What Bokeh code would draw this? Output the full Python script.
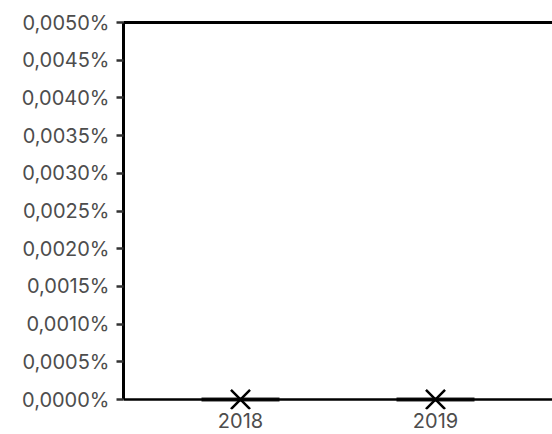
from bokeh.plotting import figure
from bokeh.models import (ColumnDataSource, FixedTicker, CustomJSTickFormatter,
                          LinearAxis, Range1d, Span)
from bokeh.embed import file_html
from bokeh.resources import INLINE

# Data (values in percent)
years = ["2018", "2019"]
q1 = [0.0, 0.0]
median = [0.0, 0.0]
q3 = [0.0, 0.0]
mean = [0.0, 0.0]
y_ticks = [0.0, 0.0005, 0.001, 0.0015, 0.002, 0.0025, 0.003, 0.0035, 0.004, 0.0045, 0.005]
y_max = 0.005

xs = list(range(len(years)))
box_half = 0.2
src = ColumnDataSource(dict(
    x=xs,
    x0=[x - box_half for x in xs],
    x1=[x + box_half for x in xs],
    q1=q1, q3=q3, med=median, mean=mean,
))

FONT = "Inter"
LABEL_COLOR = "#4d4d4d"
# small extension below zero so the markers are not clipped (10px of 377px)
y_pad = y_max * 10 / 377

p = figure(width=552, height=434, output_backend="svg", toolbar_location=None,
           x_range=Range1d(-0.6, len(years) - 0.4), y_range=Range1d(-y_pad, y_max),
           min_border_left=123, min_border_top=22, min_border_right=0,
           min_border_bottom=25)

p.grid.visible = False
p.background_fill_color = "white"
p.border_fill_color = "white"
p.outline_line_color = None

# bottom line at zero
p.add_layout(Span(location=0, dimension="width", line_color="black", line_width=2.5))

# boxes (collapsed)
p.segment(x0="x0", x1="x1", y0="med", y1="med", source=src,
          line_color="#222222", line_width=4)
p.scatter(x="x", y="mean", source=src, marker="x", size=27,
          line_color="black", line_width=2.5)

# x axis
xa = p.xaxis[0]
xa.ticker = FixedTicker(ticks=xs)
xa.major_label_overrides = {i: y for i, y in enumerate(years)}
xa.major_tick_line_color = None
xa.minor_tick_line_color = None
xa.major_tick_in = 0
xa.major_tick_out = 0
xa.axis_line_color = None
xa.major_label_text_font = FONT
xa.major_label_text_font_size = "20px"
xa.major_label_text_color = LABEL_COLOR
xa.major_label_standoff = 3

# y axis
ya = p.yaxis[0]
ya.bounds = (0, y_max)
ya.ticker = FixedTicker(ticks=y_ticks)
ya.formatter = CustomJSTickFormatter(code="return tick.toFixed(4).replace('.', ',') + '%';")
ya.minor_tick_line_color = None
ya.major_tick_in = 0
ya.major_tick_out = 7
ya.major_tick_line_width = 2.5
ya.major_tick_line_color = "#333333"
ya.axis_line_color = "black"
ya.axis_line_width = 3
ya.major_label_text_font = FONT
ya.major_label_text_font_size = "20px"
ya.major_label_text_color = LABEL_COLOR
ya.major_label_standoff = 7

# top border line
top = LinearAxis(major_tick_line_color=None, minor_tick_line_color=None,
                 major_label_text_font_size="0px", axis_line_color="black",
                 axis_line_width=3)
top.ticker = FixedTicker(ticks=[])
p.add_layout(top, "above")

# right border line
right = LinearAxis(major_tick_line_color=None, minor_tick_line_color=None,
                   major_label_text_font_size="0px", axis_line_color="#333333",
                   axis_line_width=1, bounds=(0, y_max))
right.ticker = FixedTicker(ticks=[])
p.add_layout(right, "right")

open("out.html", "w").write(file_html(p, INLINE))
